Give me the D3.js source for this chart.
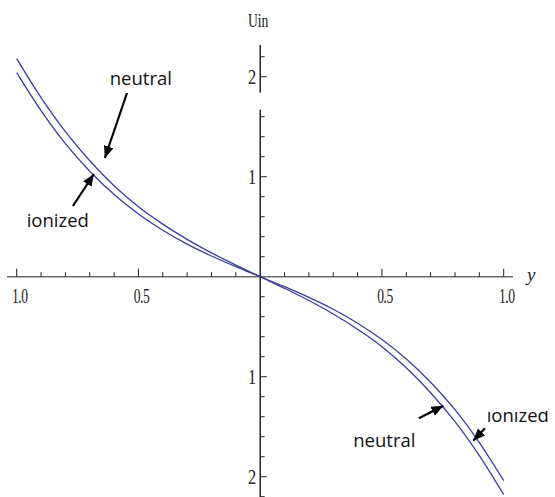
<!DOCTYPE html>
<html>
<head>
<meta charset="utf-8">
<script src="https://cdn.jsdelivr.net/npm/d3@7"></script>
<style>
  html, body { margin: 0; padding: 0; background: #fff; }
  svg { display: block; }
</style>
</head>
<body>
<svg id="chart" width="555" height="497"></svg>
<script>
// Sample positions along the horizontal axis
const yValues = [-1.0, -0.9, -0.8, -0.7, -0.6, -0.5, -0.4, -0.3, -0.2, -0.1, 0,
                  0.1,  0.2,  0.3,  0.4,  0.5,  0.6,  0.7,  0.8,  0.9, 1.0];

// Potential Uin for the neutral case
const neutralU = [2.18, 1.79, 1.45, 1.16, 0.91, 0.70, 0.526, 0.373, 0.238, 0.116, 0,
                  -0.116, -0.238, -0.373, -0.526, -0.70, -0.91, -1.16, -1.45, -1.79, -2.18];

// Potential Uin for the ionized case
const ionizedU = [2.04, 1.66, 1.33, 1.055, 0.822, 0.628, 0.465, 0.326, 0.207, 0.100, 0,
                  -0.100, -0.207, -0.326, -0.465, -0.628, -0.822, -1.055, -1.33, -1.66, -2.04];

// Tick marks and their labels
const xMajorTicks = [-1.0, -0.5, 0.5, 1.0];
const xTickLabels = ["1.0", "0.5", "0.5", "1.0"];
const yMajorTicks = [2, 1, -1, -2];
const yTickLabels = ["2", "1", "1", "2"];

const svg = d3.select("#chart");

const x = d3.scaleLinear().domain([-1, 1]).range([16.7, 503.7]);
const y = d3.scaleLinear().domain([-2.2, 2.2]).range([496.7, 56.7]);

const x0 = x(0), y0 = y(0);
const curveColor = "#3c3c9c";

// Arrowhead marker
svg.append("defs").append("marker")
  .attr("id", "head")
  .attr("viewBox", "0 0 12 10")
  .attr("refX", 12).attr("refY", 5)
  .attr("markerWidth", 12).attr("markerHeight", 10)
  .attr("markerUnits", "userSpaceOnUse")
  .attr("orient", "auto")
  .append("path").attr("d", "M0,0 L12,5 L0,10 Z").attr("fill", "#000");

svg.select("defs").append("clipPath").attr("id", "topcut")
  .append("rect").attr("x", 0).attr("y", 411).attr("width", 555).attr("height", 100);

// Horizontal axis
const xMinor = d3.range(-10, 11).filter(i => i !== 0).map(i => i / 10);
svg.append("line")
  .attr("x1", 7).attr("x2", 513).attr("y1", y0).attr("y2", y0)
  .attr("stroke", "#6a6a6a").attr("stroke-width", 1.6);
svg.append("g").selectAll("line").data(xMinor).join("line")
  .attr("x1", d => x(d)).attr("x2", d => x(d))
  .attr("y1", y0)
  .attr("y2", d => (Math.abs(Math.abs(d) - 0.5) < 1e-9 || Math.abs(Math.abs(d) - 1) < 1e-9) ? y0 - 8 : y0 - 4.5)
  .attr("stroke", "#222").attr("stroke-width", 1);
svg.append("g").selectAll("text").data(xMajorTicks).join("text")
  .attr("transform", d => `translate(${x(d) + 3},${y0 + 26}) scale(0.68,1)`)
  .attr("text-anchor", "middle")
  .attr("font-family", "Liberation Serif, serif")
  .attr("font-size", 20)
  .attr("letter-spacing", -0.8)
  .attr("fill", "#222")
  .text((d, i) => xTickLabels[i]);
svg.append("text")
  .attr("x", 527).attr("y", 281)
  .attr("font-family", "Liberation Serif, serif")
  .attr("font-style", "italic")
  .attr("font-size", 19)
  .attr("fill", "#222")
  .text("y");

// Vertical axis
svg.append("line")
  .attr("x1", x0).attr("x2", x0).attr("y1", 45).attr("y2", 497)
  .attr("stroke", "#000").attr("stroke-width", 1.3);
const yMinor = d3.range(-11, 12).filter(i => i !== 0).map(i => i / 5);
svg.append("g").selectAll("line").data(yMinor).join("line")
  .attr("x1", x0)
  .attr("x2", d => Number.isInteger(d) ? x0 + 6.5 : x0 + 4.5)
  .attr("y1", d => y(d)).attr("y2", d => y(d))
  .attr("stroke", "#222").attr("stroke-width", 1);
// break in the vertical axis above the 1.6 tick
svg.append("rect")
  .attr("x", x0 - 3).attr("y", 92.7).attr("width", 10).attr("height", 17)
  .attr("fill", "#fff");
svg.append("g").selectAll("text").data(yMajorTicks).join("text")
  .attr("transform", d => `translate(${x0 - 4},${y(d) + 7.5}) scale(0.82,1)`)
  .attr("text-anchor", "end")
  .attr("font-family", "Liberation Serif, serif")
  .attr("font-size", 20)
  .attr("fill", "#222")
  .text((d, i) => yTickLabels[i]);
svg.append("text")
  .attr("transform", `translate(${x0 - 2},26.5) scale(0.72,1)`)
  .attr("text-anchor", "middle")
  .attr("font-family", "Liberation Serif, serif")
  .attr("font-size", 19)
  .attr("fill", "#222")
  .text("Uin");

// Curves
const line = d3.line()
  .x((d, i) => x(yValues[i]))
  .y(d => y(d))
  .curve(d3.curveCatmullRom);

[neutralU, ionizedU].forEach(series => {
  svg.append("path")
    .datum(series)
    .attr("d", line)
    .attr("fill", "none")
    .attr("stroke", curveColor)
    .attr("stroke-width", 1.3);
});

// Annotations
const arrows = [
  { from: [-0.547, 1.837], to: [-0.638, 1.187] },
  { from: [-0.769, 0.707], to: [-0.683, 1.027] },
  { from: [0.652, -1.416], to: [0.752, -1.29] },
  { from: [0.923, -1.516], to: [0.875, -1.64] }
];
svg.append("g").selectAll("line").data(arrows).join("line")
  .attr("x1", d => x(d.from[0])).attr("y1", d => y(d.from[1]))
  .attr("x2", d => x(d.to[0])).attr("y2", d => y(d.to[1]))
  .attr("stroke", "#000").attr("stroke-width", 2.2)
  .attr("marker-end", "url(#head)");

const notes = [
  { text: "neutral", at: [-0.618, 1.917] },
  { text: "ionized", at: [-0.959, 0.497] },
  { text: "neutral", at: [0.382, -1.70] },
  { text: "ionized", at: [0.930, -1.45], clip: true }
];
svg.append("g").selectAll("text").data(notes).join("text")
  .attr("x", d => x(d.at[0])).attr("y", d => y(d.at[1]))
  .attr("font-family", "Open Sans, sans-serif")
  .attr("font-size", 18.5)
  .attr("fill", "#111")
  .attr("clip-path", d => d.clip ? "url(#topcut)" : null)
  .text(d => d.text);
</script>
</body>
</html>
